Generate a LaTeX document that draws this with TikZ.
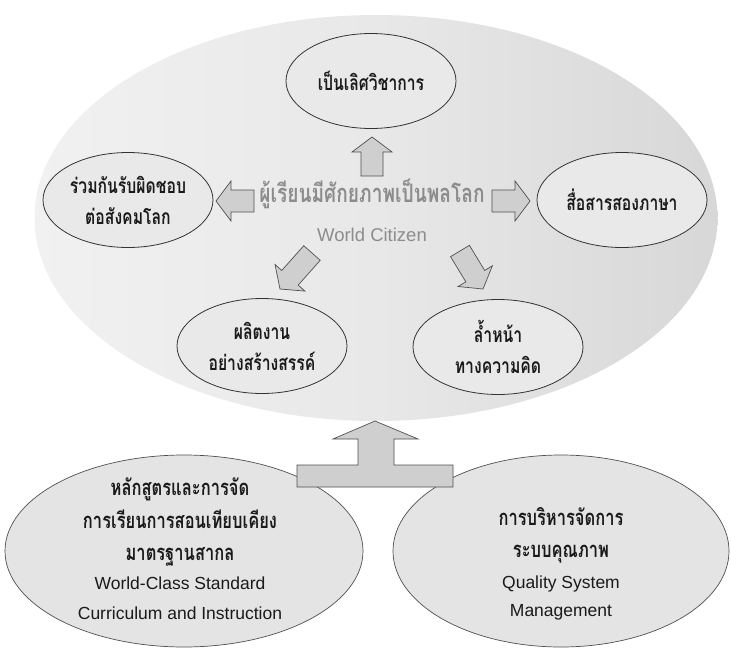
\documentclass[tikz,border=0pt]{standalone}
\usepackage{fontspec}
\setmainfont{Liberation Sans}
\newfontfamily\thai[Script=Thai,FakeStretch=0.75]{Loma}
\usetikzlibrary{shapes.geometric,calc}
\definecolor{ink}{HTML}{1A1A1A}
\definecolor{edge}{HTML}{333333}
\definecolor{goalfill}{HTML}{E9E9E9}
\definecolor{basefill}{HTML}{E4E4E4}
\definecolor{arrfill}{HTML}{CFCFCF}
\definecolor{arredge}{HTML}{505050}
\definecolor{midtext}{HTML}{8C8C8C}
\definecolor{shA}{HTML}{E0E0E0}
\definecolor{shB}{HTML}{F2F2F2}
\definecolor{shC}{HTML}{E8E8E8}
\definecolor{shD}{HTML}{D4D4D4}
\definecolor{shE}{HTML}{ACACAC}
\pgfdeclarehorizontalshading{worldshade}{100bp}{color(0bp)=(shA); color(22bp)=(shB); color(50bp)=(shC); color(80bp)=(shD); color(100bp)=(shE)}
\newcommand\BArrow[3]{%
  \coordinate (#1t) at (#2);
  \coordinate (#1p) at (#3);
  \coordinate (#1h) at ($(#1p)!15pt!(#1t)$);
  \draw[blockarrow] ($(#1t)!11pt!90:(#1p)$) -- ($(#1h)!11pt!-90:(#1t)$) -- ($(#1h)!20pt!-90:(#1t)$) -- (#1p) -- ($(#1h)!20pt!90:(#1t)$) -- ($(#1h)!11pt!90:(#1t)$) -- ($(#1t)!11pt!-90:(#1p)$) -- cycle;}
\begin{document}
\begin{tikzpicture}[x=1pt,y=-1pt,
  goal/.style={ellipse, draw=edge, line width=0.8pt, fill=goalfill, inner sep=0pt,
    minimum width=170pt, minimum height=95pt, align=center, text=ink,
    font=\thai\bfseries\fontsize{21}{31}\selectfont},
  base/.style={ellipse, draw=arredge, line width=0.7pt, fill=basefill, inner sep=0pt},
  thaitxt/.style={anchor=base, text=ink, font=\thai\bfseries\fontsize{22}{31}\selectfont},
  engtxt/.style={anchor=base, text=ink, font=\fontsize{17.5}{31}\selectfont},
  blockarrow/.style={draw=arredge, line width=0.7pt, fill=arrfill, line join=miter}]
\useasboundingbox (0,0) rectangle (731,648);
\fill[white] (0,0) rectangle (731,648);
% world citizen ellipse
\node[ellipse, inner sep=0pt, minimum width=683pt, minimum height=406pt, shading=worldshade] (world) at (376,218) {};
% goals
\node[goal] (acad) at (371,81) {เป็นเลิศวิชาการ};
\node[goal] (resp) at (128,200) {ร่วมกันรับผิดชอบ\\ต่อสังคมโลก};
\node[goal] (lang) at (622,200) {สื่อสารสองภาษา};
\node[goal] (crea) at (262,346) {ผลิตงาน\\อย่างสร้างสรรค์};
\node[goal] (think) at (498,347) {ล้ำหน้า\\ทางความคิด};
% centre labels
\node[text=midtext, font=\thai\bfseries\fontsize{25.5}{28}\selectfont] (wcth) at (372,194) {ผู้เรียนมีศักยภาพเป็นพลโลก};
\node[text=midtext, font=\fontsize{18.5}{22}\selectfont] (wcen) at (372,235) {World Citizen};
% block arrows
\BArrow{au}{372,176}{372,137}
\BArrow{al}{254,201}{216,201}
\BArrow{ar}{492,201}{530,201}
\BArrow{adl}{312,253}{280,289}
\BArrow{adr}{460,251}{483,289}
% foundations
\node[base, minimum width=358pt, minimum height=192pt] (curr) at (184,551) {};
\node[base, minimum width=336pt, minimum height=192pt] (qual) at (561,551) {};
\node[thaitxt] (curr1) at (180,495) {หลักสูตรและการจัด};
\node[thaitxt] (curr2) at (180,528) {การเรียนการสอนเทียบเคียง};
\node[thaitxt] (curr3) at (180,560) {มาตรฐานสากล};
\node[engtxt] (curr4) at (180,589) {World-Class Standard};
\node[engtxt] (curr5) at (180,619) {Curriculum and Instruction};
\node[thaitxt] (qual1) at (561,525) {การบริหารจัดการ};
\node[thaitxt] (qual2) at (561,557) {ระบบคุณภาพ};
\node[engtxt] (qual3) at (561,588) {Quality System};
\node[engtxt] (qual4) at (561,616) {Management};
% supporting arrow
\draw[blockarrow] (297,487) -- (453,487) -- (453,465) -- (394,465) -- (394,439) -- (418,439) -- (375,421) -- (333,439) -- (358,439) -- (358,465) -- (297,465) -- cycle;
\end{tikzpicture}
\end{document}
